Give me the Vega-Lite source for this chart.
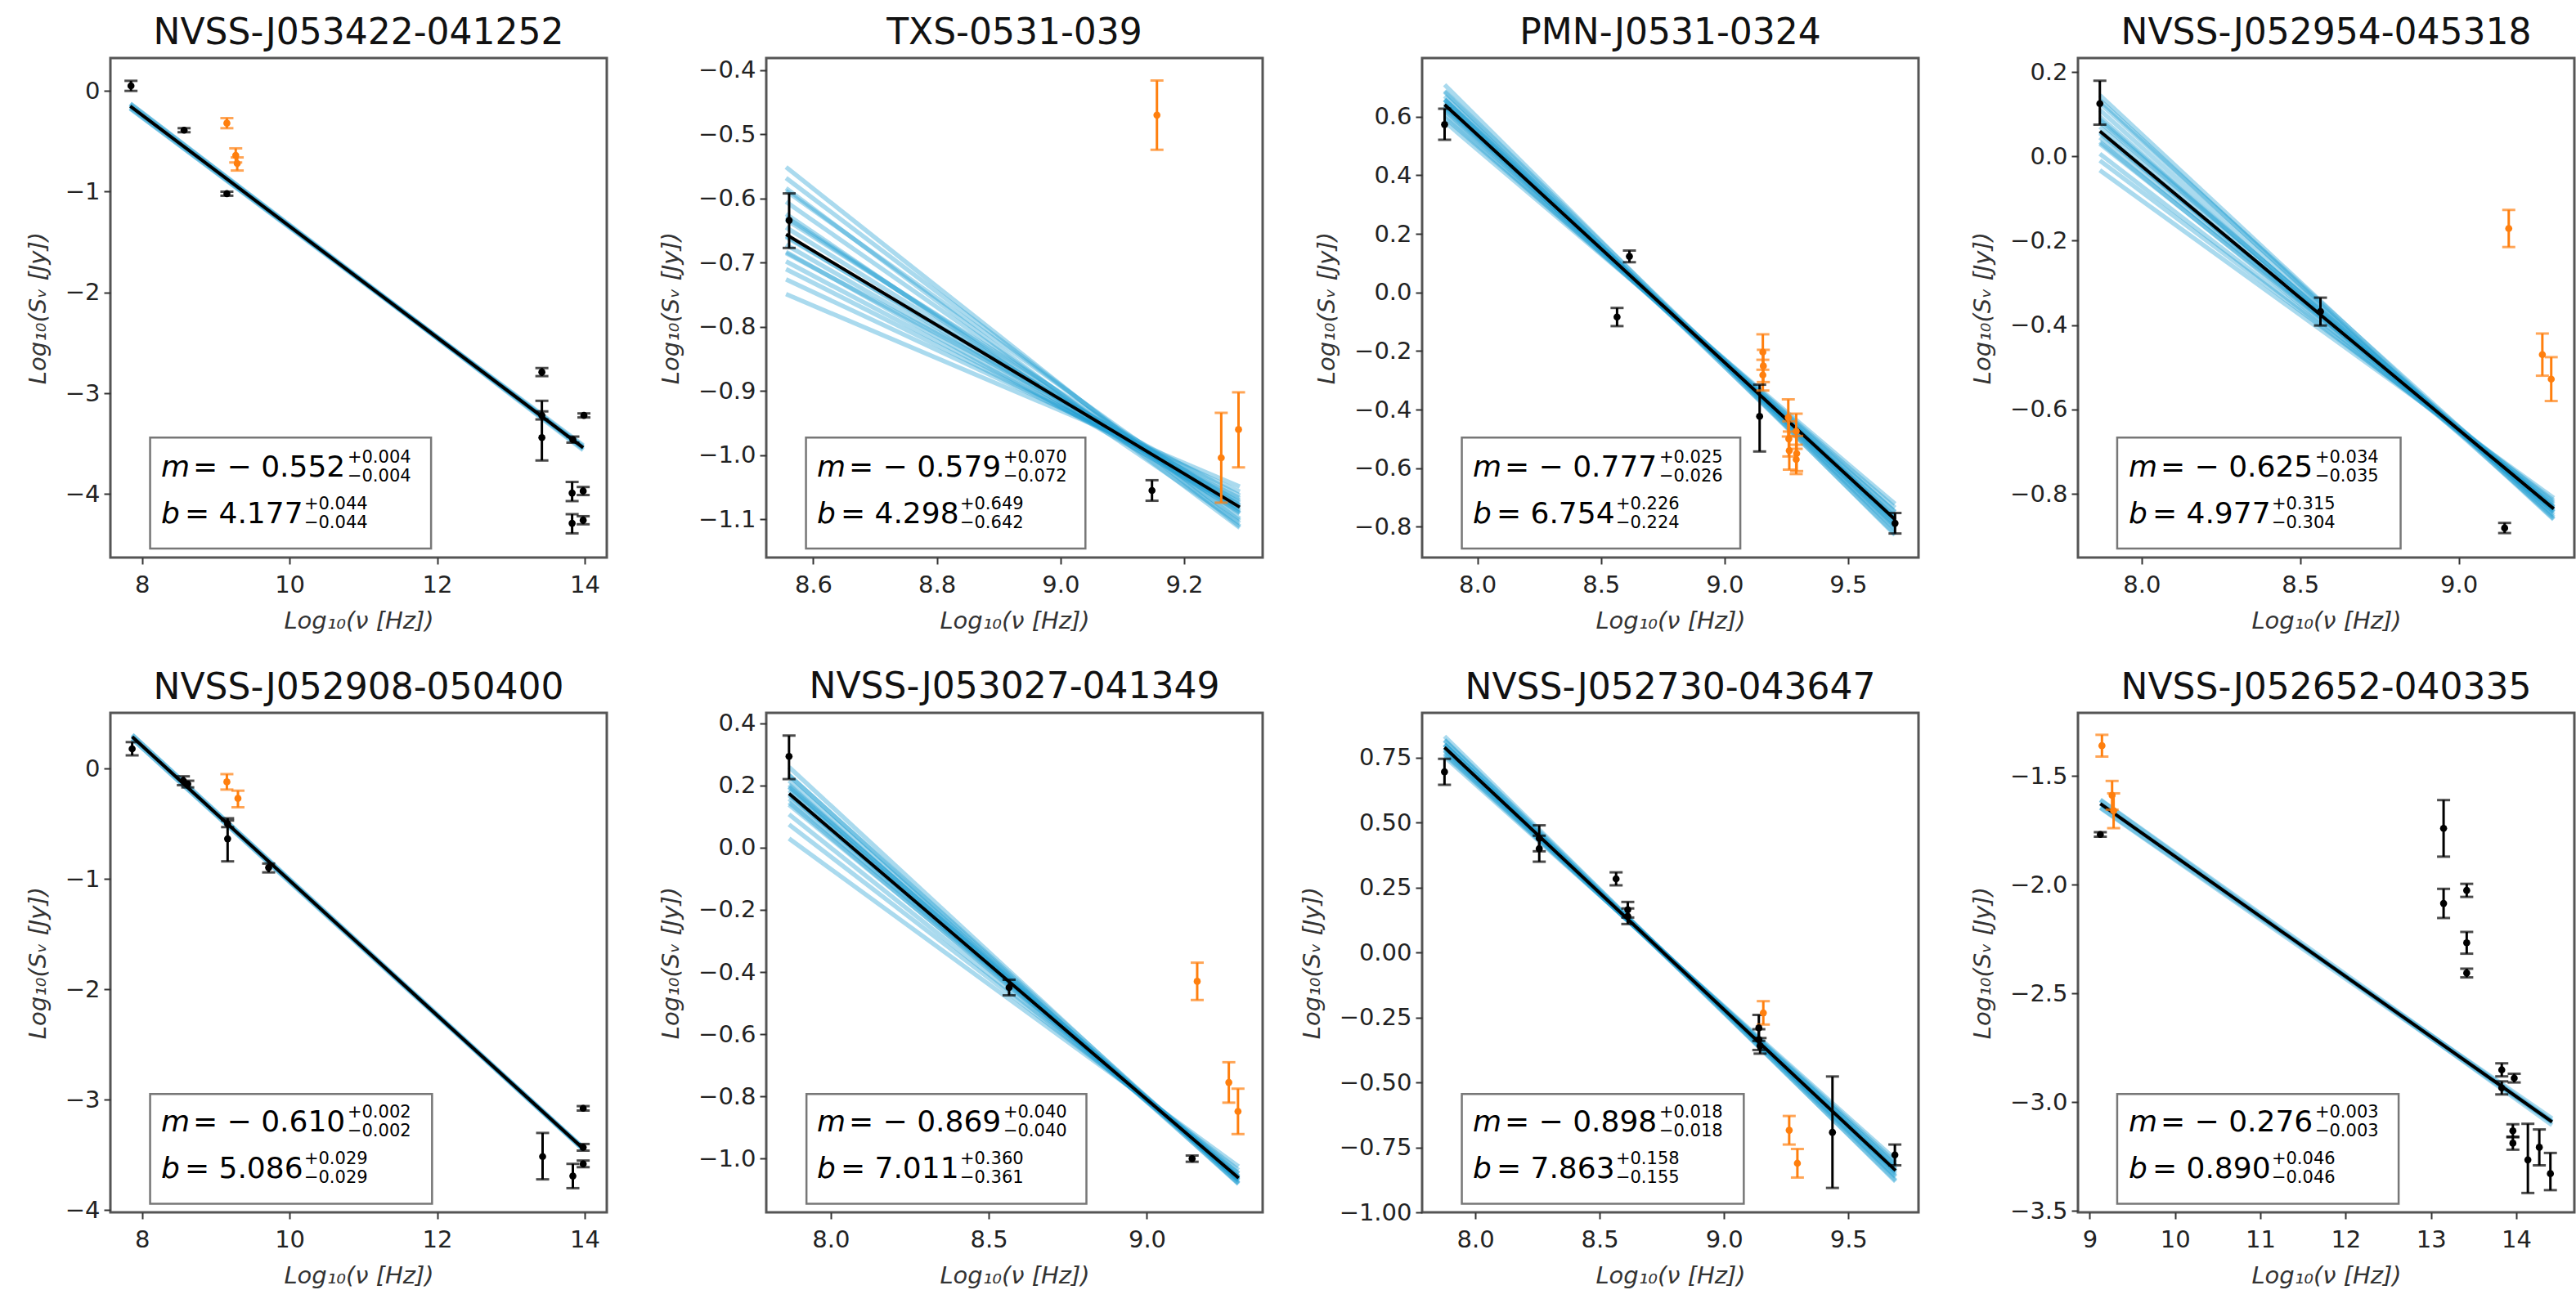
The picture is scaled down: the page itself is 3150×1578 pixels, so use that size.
{
"$schema": "https://vega.github.io/schema/vega-lite/v6.json",
"background": "white",
"padding": {"left": 30, "top": 17, "right": 0, "bottom": 0},
"columns": 4,
"spacing": {"row": 190, "column": 195},
"bounds": "flush",
"datasets": {
"pts": [
{"p":1,"c":"k","x":7.85,"y":0.05,"lo":0.0,"hi":0.1},
{"p":1,"c":"k","x":8.57,"y":-0.39,"lo":-0.41,"hi":-0.37},
{"p":1,"c":"k","x":9.15,"y":-1.02,"lo":-1.04,"hi":-1.0},
{"p":1,"c":"k","x":13.42,"y":-2.79,"lo":-2.83,"hi":-2.75},
{"p":1,"c":"k","x":13.42,"y":-3.22,"lo":-3.26,"hi":-3.18},
{"p":1,"c":"k","x":13.42,"y":-3.44,"lo":-3.667,"hi":-3.075},
{"p":1,"c":"k","x":13.84,"y":-3.46,"lo":-3.49,"hi":-3.43},
{"p":1,"c":"k","x":13.99,"y":-3.22,"lo":-3.24,"hi":-3.2},
{"p":1,"c":"k","x":13.83,"y":-3.99,"lo":-4.07,"hi":-3.88},
{"p":1,"c":"k","x":13.98,"y":-3.97,"lo":-4.01,"hi":-3.93},
{"p":1,"c":"k","x":13.83,"y":-4.29,"lo":-4.39,"hi":-4.2},
{"p":1,"c":"k","x":13.98,"y":-4.26,"lo":-4.3,"hi":-4.22},
{"p":1,"c":"o","x":9.15,"y":-0.32,"lo":-0.37,"hi":-0.27},
{"p":1,"c":"o","x":9.27,"y":-0.64,"lo":-0.71,"hi":-0.57},
{"p":1,"c":"o","x":9.29,"y":-0.72,"lo":-0.79,"hi":-0.66},
{"p":2,"c":"k","x":8.561,"y":-0.634,"lo":-0.677,"hi":-0.592},
{"p":2,"c":"k","x":9.148,"y":-1.055,"lo":-1.071,"hi":-1.039},
{"p":2,"c":"o","x":9.156,"y":-0.47,"lo":-0.524,"hi":-0.416},
{"p":2,"c":"o","x":9.26,"y":-1.004,"lo":-1.074,"hi":-0.934},
{"p":2,"c":"o","x":9.288,"y":-0.96,"lo":-1.019,"hi":-0.902},
{"p":3,"c":"k","x":7.867,"y":0.573,"lo":0.521,"hi":0.627},
{"p":3,"c":"k","x":8.565,"y":-0.084,"lo":-0.115,"hi":-0.053},
{"p":3,"c":"k","x":8.615,"y":0.123,"lo":0.103,"hi":0.143},
{"p":3,"c":"k","x":9.142,"y":-0.423,"lo":-0.543,"hi":-0.315},
{"p":3,"c":"k","x":9.69,"y":-0.788,"lo":-0.823,"hi":-0.753},
{"p":3,"c":"o","x":9.155,"y":-0.204,"lo":-0.264,"hi":-0.143},
{"p":3,"c":"o","x":9.157,"y":-0.251,"lo":-0.306,"hi":-0.196},
{"p":3,"c":"o","x":9.155,"y":-0.282,"lo":-0.335,"hi":-0.23},
{"p":3,"c":"o","x":9.258,"y":-0.427,"lo":-0.492,"hi":-0.365},
{"p":3,"c":"o","x":9.26,"y":-0.5,"lo":-0.56,"hi":-0.44},
{"p":3,"c":"o","x":9.262,"y":-0.54,"lo":-0.605,"hi":-0.475},
{"p":3,"c":"o","x":9.29,"y":-0.474,"lo":-0.534,"hi":-0.414},
{"p":3,"c":"o","x":9.292,"y":-0.55,"lo":-0.61,"hi":-0.49},
{"p":3,"c":"o","x":9.29,"y":-0.57,"lo":-0.62,"hi":-0.52},
{"p":4,"c":"k","x":7.868,"y":0.125,"lo":0.075,"hi":0.179},
{"p":4,"c":"k","x":8.564,"y":-0.368,"lo":-0.401,"hi":-0.335},
{"p":4,"c":"k","x":9.145,"y":-0.881,"lo":-0.893,"hi":-0.869},
{"p":4,"c":"o","x":9.158,"y":-0.171,"lo":-0.215,"hi":-0.127},
{"p":4,"c":"o","x":9.264,"y":-0.47,"lo":-0.52,"hi":-0.42},
{"p":4,"c":"o","x":9.292,"y":-0.528,"lo":-0.58,"hi":-0.476},
{"p":5,"c":"k","x":7.866,"y":0.179,"lo":0.12,"hi":0.24},
{"p":5,"c":"k","x":8.56,"y":-0.11,"lo":-0.15,"hi":-0.07},
{"p":5,"c":"k","x":8.62,"y":-0.14,"lo":-0.17,"hi":-0.11},
{"p":5,"c":"k","x":9.16,"y":-0.636,"lo":-0.84,"hi":-0.45},
{"p":5,"c":"k","x":9.16,"y":-0.5,"lo":-0.53,"hi":-0.47},
{"p":5,"c":"k","x":9.716,"y":-0.897,"lo":-0.94,"hi":-0.86},
{"p":5,"c":"k","x":13.43,"y":-3.514,"lo":-3.72,"hi":-3.3},
{"p":5,"c":"k","x":13.84,"y":-3.69,"lo":-3.8,"hi":-3.58},
{"p":5,"c":"k","x":13.98,"y":-3.077,"lo":-3.097,"hi":-3.057},
{"p":5,"c":"k","x":13.98,"y":-3.43,"lo":-3.46,"hi":-3.4},
{"p":5,"c":"k","x":13.98,"y":-3.58,"lo":-3.61,"hi":-3.55},
{"p":5,"c":"o","x":9.15,"y":-0.12,"lo":-0.19,"hi":-0.05},
{"p":5,"c":"o","x":9.3,"y":-0.27,"lo":-0.35,"hi":-0.2},
{"p":6,"c":"k","x":7.868,"y":0.293,"lo":0.22,"hi":0.36},
{"p":6,"c":"k","x":8.564,"y":-0.45,"lo":-0.475,"hi":-0.425},
{"p":6,"c":"k","x":9.143,"y":-1.0,"lo":-1.01,"hi":-0.99},
{"p":6,"c":"o","x":9.159,"y":-0.43,"lo":-0.49,"hi":-0.37},
{"p":6,"c":"o","x":9.259,"y":-0.755,"lo":-0.82,"hi":-0.69},
{"p":6,"c":"o","x":9.288,"y":-0.848,"lo":-0.921,"hi":-0.775},
{"p":7,"c":"k","x":7.876,"y":0.696,"lo":0.646,"hi":0.746},
{"p":7,"c":"k","x":8.257,"y":0.44,"lo":0.39,"hi":0.49},
{"p":7,"c":"k","x":8.257,"y":0.4,"lo":0.35,"hi":0.45},
{"p":7,"c":"k","x":8.566,"y":0.284,"lo":0.259,"hi":0.309},
{"p":7,"c":"k","x":8.613,"y":0.165,"lo":0.135,"hi":0.195},
{"p":7,"c":"k","x":8.613,"y":0.14,"lo":0.11,"hi":0.17},
{"p":7,"c":"k","x":9.14,"y":-0.29,"lo":-0.34,"hi":-0.24},
{"p":7,"c":"k","x":9.14,"y":-0.335,"lo":-0.375,"hi":-0.295},
{"p":7,"c":"k","x":9.145,"y":-0.359,"lo":-0.389,"hi":-0.329},
{"p":7,"c":"k","x":9.436,"y":-0.692,"lo":-0.906,"hi":-0.477},
{"p":7,"c":"k","x":9.687,"y":-0.779,"lo":-0.819,"hi":-0.739},
{"p":7,"c":"o","x":9.158,"y":-0.232,"lo":-0.277,"hi":-0.187},
{"p":7,"c":"o","x":9.262,"y":-0.684,"lo":-0.739,"hi":-0.629},
{"p":7,"c":"o","x":9.295,"y":-0.811,"lo":-0.866,"hi":-0.756},
{"p":8,"c":"k","x":9.124,"y":-1.769,"lo":-1.779,"hi":-1.759},
{"p":8,"c":"k","x":13.148,"y":-1.741,"lo":-1.871,"hi":-1.611},
{"p":8,"c":"k","x":13.148,"y":-2.086,"lo":-2.153,"hi":-2.019},
{"p":8,"c":"k","x":13.419,"y":-2.026,"lo":-2.056,"hi":-1.996},
{"p":8,"c":"k","x":13.419,"y":-2.267,"lo":-2.317,"hi":-2.217},
{"p":8,"c":"k","x":13.419,"y":-2.406,"lo":-2.426,"hi":-2.386},
{"p":8,"c":"k","x":13.83,"y":-2.851,"lo":-2.881,"hi":-2.821},
{"p":8,"c":"k","x":13.976,"y":-2.889,"lo":-2.909,"hi":-2.869},
{"p":8,"c":"k","x":13.83,"y":-2.934,"lo":-2.964,"hi":-2.904},
{"p":8,"c":"k","x":13.96,"y":-3.131,"lo":-3.161,"hi":-3.101},
{"p":8,"c":"k","x":13.96,"y":-3.188,"lo":-3.218,"hi":-3.158},
{"p":8,"c":"k","x":14.136,"y":-3.265,"lo":-3.417,"hi":-3.099},
{"p":8,"c":"k","x":14.27,"y":-3.207,"lo":-3.29,"hi":-3.125},
{"p":8,"c":"k","x":14.4,"y":-3.328,"lo":-3.404,"hi":-3.233},
{"p":8,"c":"o","x":9.143,"y":-1.361,"lo":-1.411,"hi":-1.311},
{"p":8,"c":"o","x":9.262,"y":-1.589,"lo":-1.655,"hi":-1.523},
{"p":8,"c":"o","x":9.28,"y":-1.66,"lo":-1.74,"hi":-1.58}
],
"lns": [
{"p":1,"k":"f","x":7.84,"y":-0.151,"xe":13.98,"ye":-3.54},
{"p":1,"k":"s","x":7.84,"y":-0.126,"xe":13.98,"ye":-3.564},
{"p":1,"k":"s","x":7.84,"y":-0.128,"xe":13.98,"ye":-3.542},
{"p":1,"k":"s","x":7.84,"y":-0.14,"xe":13.98,"ye":-3.552},
{"p":1,"k":"s","x":7.84,"y":-0.162,"xe":13.98,"ye":-3.528},
{"p":1,"k":"s","x":7.84,"y":-0.174,"xe":13.98,"ye":-3.538},
{"p":1,"k":"s","x":7.84,"y":-0.176,"xe":13.98,"ye":-3.516},
{"p":2,"k":"f","x":8.556,"y":-0.656,"xe":9.29,"ye":-1.081},
{"p":2,"k":"s","x":8.556,"y":-0.551,"xe":9.29,"ye":-1.111},
{"p":2,"k":"s","x":8.556,"y":-0.568,"xe":9.29,"ye":-1.102},
{"p":2,"k":"s","x":8.556,"y":-0.584,"xe":9.29,"ye":-1.113},
{"p":2,"k":"s","x":8.556,"y":-0.588,"xe":9.29,"ye":-1.091},
{"p":2,"k":"s","x":8.556,"y":-0.605,"xe":9.29,"ye":-1.099},
{"p":2,"k":"s","x":8.556,"y":-0.624,"xe":9.29,"ye":-1.106},
{"p":2,"k":"s","x":8.556,"y":-0.629,"xe":9.29,"ye":-1.09},
{"p":2,"k":"s","x":8.556,"y":-0.633,"xe":9.29,"ye":-1.078},
{"p":2,"k":"s","x":8.556,"y":-0.645,"xe":9.29,"ye":-1.085},
{"p":2,"k":"s","x":8.556,"y":-0.658,"xe":9.29,"ye":-1.088},
{"p":2,"k":"s","x":8.556,"y":-0.66,"xe":9.29,"ye":-1.074},
{"p":2,"k":"s","x":8.556,"y":-0.672,"xe":9.29,"ye":-1.079},
{"p":2,"k":"s","x":8.556,"y":-0.683,"xe":9.29,"ye":-1.082},
{"p":2,"k":"s","x":8.556,"y":-0.685,"xe":9.29,"ye":-1.063},
{"p":2,"k":"s","x":8.556,"y":-0.698,"xe":9.29,"ye":-1.071},
{"p":2,"k":"s","x":8.556,"y":-0.71,"xe":9.29,"ye":-1.067},
{"p":2,"k":"s","x":8.556,"y":-0.726,"xe":9.29,"ye":-1.057},
{"p":2,"k":"s","x":8.556,"y":-0.749,"xe":9.29,"ye":-1.049},
{"p":3,"k":"f","x":7.867,"y":0.641,"xe":9.69,"ye":-0.775},
{"p":3,"k":"s","x":7.867,"y":0.709,"xe":9.69,"ye":-0.828},
{"p":3,"k":"s","x":7.867,"y":0.685,"xe":9.69,"ye":-0.824},
{"p":3,"k":"s","x":7.867,"y":0.688,"xe":9.69,"ye":-0.798},
{"p":3,"k":"s","x":7.867,"y":0.67,"xe":9.69,"ye":-0.803},
{"p":3,"k":"s","x":7.867,"y":0.658,"xe":9.69,"ye":-0.809},
{"p":3,"k":"s","x":7.867,"y":0.658,"xe":9.69,"ye":-0.791},
{"p":3,"k":"s","x":7.867,"y":0.659,"xe":9.69,"ye":-0.776},
{"p":3,"k":"s","x":7.867,"y":0.648,"xe":9.69,"ye":-0.781},
{"p":3,"k":"s","x":7.867,"y":0.637,"xe":9.69,"ye":-0.783},
{"p":3,"k":"s","x":7.867,"y":0.64,"xe":9.69,"ye":-0.767},
{"p":3,"k":"s","x":7.867,"y":0.63,"xe":9.69,"ye":-0.77},
{"p":3,"k":"s","x":7.867,"y":0.621,"xe":9.69,"ye":-0.772},
{"p":3,"k":"s","x":7.867,"y":0.625,"xe":9.69,"ye":-0.749},
{"p":3,"k":"s","x":7.867,"y":0.605,"xe":9.69,"ye":-0.75},
{"p":3,"k":"s","x":7.867,"y":0.597,"xe":9.69,"ye":-0.735},
{"p":3,"k":"s","x":7.867,"y":0.583,"xe":9.69,"ye":-0.722},
{"p":4,"k":"f","x":7.868,"y":0.0595,"xe":9.3,"ye":-0.8355},
{"p":4,"k":"s","x":7.868,"y":0.145,"xe":9.3,"ye":-0.859},
{"p":4,"k":"s","x":7.868,"y":0.133,"xe":9.3,"ye":-0.861},
{"p":4,"k":"s","x":7.868,"y":0.126,"xe":9.3,"ye":-0.844},
{"p":4,"k":"s","x":7.868,"y":0.11,"xe":9.3,"ye":-0.85},
{"p":4,"k":"s","x":7.868,"y":0.094,"xe":9.3,"ye":-0.855},
{"p":4,"k":"s","x":7.868,"y":0.087,"xe":9.3,"ye":-0.843},
{"p":4,"k":"s","x":7.868,"y":0.081,"xe":9.3,"ye":-0.833},
{"p":4,"k":"s","x":7.868,"y":0.07,"xe":9.3,"ye":-0.838},
{"p":4,"k":"s","x":7.868,"y":0.059,"xe":9.3,"ye":-0.841},
{"p":4,"k":"s","x":7.868,"y":0.055,"xe":9.3,"ye":-0.83},
{"p":4,"k":"s","x":7.868,"y":0.045,"xe":9.3,"ye":-0.832},
{"p":4,"k":"s","x":7.868,"y":0.034,"xe":9.3,"ye":-0.837},
{"p":4,"k":"s","x":7.868,"y":0.03,"xe":9.3,"ye":-0.821},
{"p":4,"k":"s","x":7.868,"y":0.006,"xe":9.3,"ye":-0.825},
{"p":4,"k":"s","x":7.868,"y":-0.01,"xe":9.3,"ye":-0.816},
{"p":4,"k":"s","x":7.868,"y":-0.033,"xe":9.3,"ye":-0.81},
{"p":5,"k":"f","x":7.866,"y":0.288,"xe":13.98,"ye":-3.442},
{"p":5,"k":"s","x":7.866,"y":0.305,"xe":13.98,"ye":-3.45},
{"p":5,"k":"s","x":7.866,"y":0.306,"xe":13.98,"ye":-3.436},
{"p":5,"k":"s","x":7.866,"y":0.288,"xe":13.98,"ye":-3.442},
{"p":5,"k":"s","x":7.866,"y":0.27,"xe":13.98,"ye":-3.448},
{"p":5,"k":"s","x":7.866,"y":0.271,"xe":13.98,"ye":-3.434},
{"p":6,"k":"f","x":7.868,"y":0.1737,"xe":9.29,"ye":-1.062},
{"p":6,"k":"s","x":7.868,"y":0.259,"xe":9.29,"ye":-1.079},
{"p":6,"k":"s","x":7.868,"y":0.233,"xe":9.29,"ye":-1.082},
{"p":6,"k":"s","x":7.868,"y":0.232,"xe":9.29,"ye":-1.067},
{"p":6,"k":"s","x":7.868,"y":0.215,"xe":9.29,"ye":-1.072},
{"p":6,"k":"s","x":7.868,"y":0.202,"xe":9.29,"ye":-1.079},
{"p":6,"k":"s","x":7.868,"y":0.196,"xe":9.29,"ye":-1.068},
{"p":6,"k":"s","x":7.868,"y":0.194,"xe":9.29,"ye":-1.059},
{"p":6,"k":"s","x":7.868,"y":0.184,"xe":9.29,"ye":-1.064},
{"p":6,"k":"s","x":7.868,"y":0.173,"xe":9.29,"ye":-1.068},
{"p":6,"k":"s","x":7.868,"y":0.168,"xe":9.29,"ye":-1.057},
{"p":6,"k":"s","x":7.868,"y":0.157,"xe":9.29,"ye":-1.06},
{"p":6,"k":"s","x":7.868,"y":0.145,"xe":9.29,"ye":-1.063},
{"p":6,"k":"s","x":7.868,"y":0.138,"xe":9.29,"ye":-1.047},
{"p":6,"k":"s","x":7.868,"y":0.107,"xe":9.29,"ye":-1.049},
{"p":6,"k":"s","x":7.868,"y":0.074,"xe":9.29,"ye":-1.037},
{"p":6,"k":"s","x":7.868,"y":0.029,"xe":9.29,"ye":-1.025},
{"p":7,"k":"f","x":7.876,"y":0.79,"xe":9.69,"ye":-0.839},
{"p":7,"k":"s","x":7.876,"y":0.833,"xe":9.69,"ye":-0.881},
{"p":7,"k":"s","x":7.876,"y":0.817,"xe":9.69,"ye":-0.877},
{"p":7,"k":"s","x":7.876,"y":0.819,"xe":9.69,"ye":-0.859},
{"p":7,"k":"s","x":7.876,"y":0.801,"xe":9.69,"ye":-0.864},
{"p":7,"k":"s","x":7.876,"y":0.801,"xe":9.69,"ye":-0.851},
{"p":7,"k":"s","x":7.876,"y":0.801,"xe":9.69,"ye":-0.841},
{"p":7,"k":"s","x":7.876,"y":0.788,"xe":9.69,"ye":-0.844},
{"p":7,"k":"s","x":7.876,"y":0.789,"xe":9.69,"ye":-0.833},
{"p":7,"k":"s","x":7.876,"y":0.778,"xe":9.69,"ye":-0.835},
{"p":7,"k":"s","x":7.876,"y":0.78,"xe":9.69,"ye":-0.82},
{"p":7,"k":"s","x":7.876,"y":0.768,"xe":9.69,"ye":-0.819},
{"p":7,"k":"s","x":7.876,"y":0.763,"xe":9.69,"ye":-0.808},
{"p":7,"k":"s","x":7.876,"y":0.754,"xe":9.69,"ye":-0.797},
{"p":8,"k":"f","x":9.124,"y":-1.628,"xe":14.42,"ye":-3.09},
{"p":8,"k":"s","x":9.124,"y":-1.611,"xe":14.42,"ye":-3.105},
{"p":8,"k":"s","x":9.124,"y":-1.609,"xe":14.42,"ye":-3.087},
{"p":8,"k":"s","x":9.124,"y":-1.628,"xe":14.42,"ye":-3.09},
{"p":8,"k":"s","x":9.124,"y":-1.647,"xe":14.42,"ye":-3.093},
{"p":8,"k":"s","x":9.124,"y":-1.645,"xe":14.42,"ye":-3.075}
],
"ann": [
{"p":1,"mv":"= − 0.552","mp":"+0.004","mm":"−0.004","bv":"= 4.177","bp":"+0.044","bm":"−0.044"},
{"p":2,"mv":"= − 0.579","mp":"+0.070","mm":"−0.072","bv":"= 4.298","bp":"+0.649","bm":"−0.642"},
{"p":3,"mv":"= − 0.777","mp":"+0.025","mm":"−0.026","bv":"= 6.754","bp":"+0.226","bm":"−0.224"},
{"p":4,"mv":"= − 0.625","mp":"+0.034","mm":"−0.035","bv":"= 4.977","bp":"+0.315","bm":"−0.304"},
{"p":5,"mv":"= − 0.610","mp":"+0.002","mm":"−0.002","bv":"= 5.086","bp":"+0.029","bm":"−0.029"},
{"p":6,"mv":"= − 0.869","mp":"+0.040","mm":"−0.040","bv":"= 7.011","bp":"+0.360","bm":"−0.361"},
{"p":7,"mv":"= − 0.898","mp":"+0.018","mm":"−0.018","bv":"= 7.863","bp":"+0.158","bm":"−0.155"},
{"p":8,"mv":"= − 0.276","mp":"+0.003","mm":"−0.003","bv":"= 0.890","bp":"+0.046","bm":"−0.046"}
]
},
"concat": [
{"width":607,"height":611,"title":"NVSS-J053422-041252","resolve":{"scale":{"x":"independent","y":"independent"}},
"layer":[
{"layer":[
{"data":{"name":"lns"},"transform":[{"filter":"datum.p == 1 && datum.k == 's'"}],"mark":{"type":"rule","color":"#1f9ed1","opacity":0.38,"strokeWidth":5.5},
"encoding":{"x":{"field":"x","type":"quantitative","scale":{"domain":[7.571,14.3],"zero":false,"nice":false},"axis":{"values":[8,10,12,14],"format":"d","title":"Log₁₀(ν [Hz])"}},
"y":{"field":"y","type":"quantitative","scale":{"domain":[-4.63,0.326],"zero":false,"nice":false},"axis":{"values":[0,-1,-2,-3,-4],"format":"d","title":"Log₁₀(Sᵥ [Jy])"}},"x2":{"field":"xe"},"y2":{"field":"ye"}}},
{"data":{"name":"lns"},"transform":[{"filter":"datum.p == 1 && datum.k == 'f'"}],"mark":{"type":"rule","color":"#000000","strokeWidth":4},"encoding":{"x":{"field":"x","type":"quantitative"},"y":{"field":"y","type":"quantitative"},"x2":{"field":"xe"},"y2":{"field":"ye"}}},
{"data":{"name":"pts"},"transform":[{"filter":"datum.p == 1"}],"mark":{"type":"rule","strokeWidth":3},"encoding":{"x":{"field":"x","type":"quantitative"},"y":{"field":"lo","type":"quantitative"},"y2":{"field":"hi"},"color":{"field":"c","type":"nominal","scale":{"domain":["k","o"],"range":["#000000","#ff7f0e"]},"legend":null}}},
{"data":{"name":"pts"},"transform":[{"filter":"datum.p == 1"}],"mark":{"type":"tick","orient":"horizontal","size":16,"thickness":3},"encoding":{"x":{"field":"x","type":"quantitative"},"y":{"field":"lo","type":"quantitative"},"color":{"field":"c","type":"nominal","legend":null}}},
{"data":{"name":"pts"},"transform":[{"filter":"datum.p == 1"}],"mark":{"type":"tick","orient":"horizontal","size":16,"thickness":3},"encoding":{"x":{"field":"x","type":"quantitative"},"y":{"field":"hi","type":"quantitative"},"color":{"field":"c","type":"nominal","legend":null}}},
{"data":{"name":"pts"},"transform":[{"filter":"datum.p == 1"}],"mark":{"type":"circle","size":75,"opacity":1},"encoding":{"x":{"field":"x","type":"quantitative"},"y":{"field":"y","type":"quantitative"},"color":{"field":"c","type":"nominal","legend":null}}}
]},
{"data":{"name":"ann"},"transform":[{"filter":"datum.p == 1"}],
"encoding":{"x":{"datum":0.102,"type":"quantitative","scale":{"domain":[0,1]},"axis":null},"y":{"datum":0.18,"type":"quantitative","scale":{"domain":[0,1]},"axis":null}},
"layer":[
{"mark":{"type":"rect","fill":"#ffffff","stroke":"#777777","strokeWidth":2.5},"encoding":{"x":{"datum":0.08,"type":"quantitative","axis":null},"x2":{"datum":0.646},"y":{"datum":0.018,"type":"quantitative","axis":null},"y2":{"datum":0.24}}},
{"mark":{"type":"text","text":"m","fontStyle":"italic","fontSize":36,"align":"left","baseline":"middle","color":"#000000"}},
{"mark":{"type":"text","fontSize":36,"align":"left","baseline":"middle","dx":39,"color":"#000000"},"encoding":{"text":{"field":"mv"}}},
{"mark":{"type":"text","fontSize":21,"align":"left","baseline":"middle","dx":228,"dy":-12,"color":"#000000"},"encoding":{"text":{"field":"mp"}}},
{"mark":{"type":"text","fontSize":21,"align":"left","baseline":"middle","dx":228,"dy":11,"color":"#000000"},"encoding":{"text":{"field":"mm"}}},
{"mark":{"type":"text","text":"b","fontStyle":"italic","fontSize":36,"align":"left","baseline":"middle","dy":57,"color":"#000000"}},
{"mark":{"type":"text","fontSize":36,"align":"left","baseline":"middle","dx":29,"dy":57,"color":"#000000"},"encoding":{"text":{"field":"bv"}}},
{"mark":{"type":"text","fontSize":21,"align":"left","baseline":"middle","dx":175,"dy":45,"color":"#000000"},"encoding":{"text":{"field":"bp"}}},
{"mark":{"type":"text","fontSize":21,"align":"left","baseline":"middle","dx":175,"dy":68,"color":"#000000"},"encoding":{"text":{"field":"bm"}}}
]}
]},
{"width":607,"height":611,"title":"TXS-0531-039","resolve":{"scale":{"x":"independent","y":"independent"}},
"layer":[
{"layer":[
{"data":{"name":"lns"},"transform":[{"filter":"datum.p == 2 && datum.k == 's'"}],"mark":{"type":"rule","color":"#1f9ed1","opacity":0.38,"strokeWidth":5.5},
"encoding":{"x":{"field":"x","type":"quantitative","scale":{"domain":[8.524,9.327],"zero":false,"nice":false},"axis":{"values":[8.6,8.8,9.0,9.2],"format":".1f","title":"Log₁₀(ν [Hz])"}},
"y":{"field":"y","type":"quantitative","scale":{"domain":[-1.1595,-0.381],"zero":false,"nice":false},"axis":{"values":[-0.4,-0.5,-0.6,-0.7,-0.8,-0.9,-1.0,-1.1],"format":".1f","title":"Log₁₀(Sᵥ [Jy])"}},"x2":{"field":"xe"},"y2":{"field":"ye"}}},
{"data":{"name":"lns"},"transform":[{"filter":"datum.p == 2 && datum.k == 'f'"}],"mark":{"type":"rule","color":"#000000","strokeWidth":4},"encoding":{"x":{"field":"x","type":"quantitative"},"y":{"field":"y","type":"quantitative"},"x2":{"field":"xe"},"y2":{"field":"ye"}}},
{"data":{"name":"pts"},"transform":[{"filter":"datum.p == 2"}],"mark":{"type":"rule","strokeWidth":3},"encoding":{"x":{"field":"x","type":"quantitative"},"y":{"field":"lo","type":"quantitative"},"y2":{"field":"hi"},"color":{"field":"c","type":"nominal","scale":{"domain":["k","o"],"range":["#000000","#ff7f0e"]},"legend":null}}},
{"data":{"name":"pts"},"transform":[{"filter":"datum.p == 2"}],"mark":{"type":"tick","orient":"horizontal","size":16,"thickness":3},"encoding":{"x":{"field":"x","type":"quantitative"},"y":{"field":"lo","type":"quantitative"},"color":{"field":"c","type":"nominal","legend":null}}},
{"data":{"name":"pts"},"transform":[{"filter":"datum.p == 2"}],"mark":{"type":"tick","orient":"horizontal","size":16,"thickness":3},"encoding":{"x":{"field":"x","type":"quantitative"},"y":{"field":"hi","type":"quantitative"},"color":{"field":"c","type":"nominal","legend":null}}},
{"data":{"name":"pts"},"transform":[{"filter":"datum.p == 2"}],"mark":{"type":"circle","size":75,"opacity":1},"encoding":{"x":{"field":"x","type":"quantitative"},"y":{"field":"y","type":"quantitative"},"color":{"field":"c","type":"nominal","legend":null}}}
]},
{"data":{"name":"ann"},"transform":[{"filter":"datum.p == 2"}],
"encoding":{"x":{"datum":0.102,"type":"quantitative","scale":{"domain":[0,1]},"axis":null},"y":{"datum":0.18,"type":"quantitative","scale":{"domain":[0,1]},"axis":null}},
"layer":[
{"mark":{"type":"rect","fill":"#ffffff","stroke":"#777777","strokeWidth":2.5},"encoding":{"x":{"datum":0.08,"type":"quantitative","axis":null},"x2":{"datum":0.643},"y":{"datum":0.018,"type":"quantitative","axis":null},"y2":{"datum":0.24}}},
{"mark":{"type":"text","text":"m","fontStyle":"italic","fontSize":36,"align":"left","baseline":"middle","color":"#000000"}},
{"mark":{"type":"text","fontSize":36,"align":"left","baseline":"middle","dx":39,"color":"#000000"},"encoding":{"text":{"field":"mv"}}},
{"mark":{"type":"text","fontSize":21,"align":"left","baseline":"middle","dx":228,"dy":-12,"color":"#000000"},"encoding":{"text":{"field":"mp"}}},
{"mark":{"type":"text","fontSize":21,"align":"left","baseline":"middle","dx":228,"dy":11,"color":"#000000"},"encoding":{"text":{"field":"mm"}}},
{"mark":{"type":"text","text":"b","fontStyle":"italic","fontSize":36,"align":"left","baseline":"middle","dy":57,"color":"#000000"}},
{"mark":{"type":"text","fontSize":36,"align":"left","baseline":"middle","dx":29,"dy":57,"color":"#000000"},"encoding":{"text":{"field":"bv"}}},
{"mark":{"type":"text","fontSize":21,"align":"left","baseline":"middle","dx":175,"dy":45,"color":"#000000"},"encoding":{"text":{"field":"bp"}}},
{"mark":{"type":"text","fontSize":21,"align":"left","baseline":"middle","dx":175,"dy":68,"color":"#000000"},"encoding":{"text":{"field":"bm"}}}
]}
]},
{"width":607,"height":611,"title":"PMN-J0531-0324","resolve":{"scale":{"x":"independent","y":"independent"}},
"layer":[
{"layer":[
{"data":{"name":"lns"},"transform":[{"filter":"datum.p == 3 && datum.k == 's'"}],"mark":{"type":"rule","color":"#1f9ed1","opacity":0.38,"strokeWidth":5.5},
"encoding":{"x":{"field":"x","type":"quantitative","scale":{"domain":[7.776,9.785],"zero":false,"nice":false},"axis":{"values":[8.0,8.5,9.0,9.5],"format":".1f","title":"Log₁₀(ν [Hz])"}},
"y":{"field":"y","type":"quantitative","scale":{"domain":[-0.905,0.8],"zero":false,"nice":false},"axis":{"values":[0.6,0.4,0.2,0.0,-0.2,-0.4,-0.6,-0.8],"format":".1f","title":"Log₁₀(Sᵥ [Jy])"}},"x2":{"field":"xe"},"y2":{"field":"ye"}}},
{"data":{"name":"lns"},"transform":[{"filter":"datum.p == 3 && datum.k == 'f'"}],"mark":{"type":"rule","color":"#000000","strokeWidth":4},"encoding":{"x":{"field":"x","type":"quantitative"},"y":{"field":"y","type":"quantitative"},"x2":{"field":"xe"},"y2":{"field":"ye"}}},
{"data":{"name":"pts"},"transform":[{"filter":"datum.p == 3"}],"mark":{"type":"rule","strokeWidth":3},"encoding":{"x":{"field":"x","type":"quantitative"},"y":{"field":"lo","type":"quantitative"},"y2":{"field":"hi"},"color":{"field":"c","type":"nominal","scale":{"domain":["k","o"],"range":["#000000","#ff7f0e"]},"legend":null}}},
{"data":{"name":"pts"},"transform":[{"filter":"datum.p == 3"}],"mark":{"type":"tick","orient":"horizontal","size":16,"thickness":3},"encoding":{"x":{"field":"x","type":"quantitative"},"y":{"field":"lo","type":"quantitative"},"color":{"field":"c","type":"nominal","legend":null}}},
{"data":{"name":"pts"},"transform":[{"filter":"datum.p == 3"}],"mark":{"type":"tick","orient":"horizontal","size":16,"thickness":3},"encoding":{"x":{"field":"x","type":"quantitative"},"y":{"field":"hi","type":"quantitative"},"color":{"field":"c","type":"nominal","legend":null}}},
{"data":{"name":"pts"},"transform":[{"filter":"datum.p == 3"}],"mark":{"type":"circle","size":75,"opacity":1},"encoding":{"x":{"field":"x","type":"quantitative"},"y":{"field":"y","type":"quantitative"},"color":{"field":"c","type":"nominal","legend":null}}}
]},
{"data":{"name":"ann"},"transform":[{"filter":"datum.p == 3"}],
"encoding":{"x":{"datum":0.102,"type":"quantitative","scale":{"domain":[0,1]},"axis":null},"y":{"datum":0.18,"type":"quantitative","scale":{"domain":[0,1]},"axis":null}},
"layer":[
{"mark":{"type":"rect","fill":"#ffffff","stroke":"#777777","strokeWidth":2.5},"encoding":{"x":{"datum":0.08,"type":"quantitative","axis":null},"x2":{"datum":0.641},"y":{"datum":0.018,"type":"quantitative","axis":null},"y2":{"datum":0.24}}},
{"mark":{"type":"text","text":"m","fontStyle":"italic","fontSize":36,"align":"left","baseline":"middle","color":"#000000"}},
{"mark":{"type":"text","fontSize":36,"align":"left","baseline":"middle","dx":39,"color":"#000000"},"encoding":{"text":{"field":"mv"}}},
{"mark":{"type":"text","fontSize":21,"align":"left","baseline":"middle","dx":228,"dy":-12,"color":"#000000"},"encoding":{"text":{"field":"mp"}}},
{"mark":{"type":"text","fontSize":21,"align":"left","baseline":"middle","dx":228,"dy":11,"color":"#000000"},"encoding":{"text":{"field":"mm"}}},
{"mark":{"type":"text","text":"b","fontStyle":"italic","fontSize":36,"align":"left","baseline":"middle","dy":57,"color":"#000000"}},
{"mark":{"type":"text","fontSize":36,"align":"left","baseline":"middle","dx":29,"dy":57,"color":"#000000"},"encoding":{"text":{"field":"bv"}}},
{"mark":{"type":"text","fontSize":21,"align":"left","baseline":"middle","dx":175,"dy":45,"color":"#000000"},"encoding":{"text":{"field":"bp"}}},
{"mark":{"type":"text","fontSize":21,"align":"left","baseline":"middle","dx":175,"dy":68,"color":"#000000"},"encoding":{"text":{"field":"bm"}}}
]}
]},
{"width":607,"height":611,"title":"NVSS-J052954-045318","resolve":{"scale":{"x":"independent","y":"independent"}},
"layer":[
{"layer":[
{"data":{"name":"lns"},"transform":[{"filter":"datum.p == 4 && datum.k == 's'"}],"mark":{"type":"rule","color":"#1f9ed1","opacity":0.38,"strokeWidth":5.5},
"encoding":{"x":{"field":"x","type":"quantitative","scale":{"domain":[7.799,9.365],"zero":false,"nice":false},"axis":{"values":[8.0,8.5,9.0],"format":".1f","title":"Log₁₀(ν [Hz])"}},
"y":{"field":"y","type":"quantitative","scale":{"domain":[-0.951,0.233],"zero":false,"nice":false},"axis":{"values":[0.2,0.0,-0.2,-0.4,-0.6,-0.8],"format":".1f","title":"Log₁₀(Sᵥ [Jy])"}},"x2":{"field":"xe"},"y2":{"field":"ye"}}},
{"data":{"name":"lns"},"transform":[{"filter":"datum.p == 4 && datum.k == 'f'"}],"mark":{"type":"rule","color":"#000000","strokeWidth":4},"encoding":{"x":{"field":"x","type":"quantitative"},"y":{"field":"y","type":"quantitative"},"x2":{"field":"xe"},"y2":{"field":"ye"}}},
{"data":{"name":"pts"},"transform":[{"filter":"datum.p == 4"}],"mark":{"type":"rule","strokeWidth":3},"encoding":{"x":{"field":"x","type":"quantitative"},"y":{"field":"lo","type":"quantitative"},"y2":{"field":"hi"},"color":{"field":"c","type":"nominal","scale":{"domain":["k","o"],"range":["#000000","#ff7f0e"]},"legend":null}}},
{"data":{"name":"pts"},"transform":[{"filter":"datum.p == 4"}],"mark":{"type":"tick","orient":"horizontal","size":16,"thickness":3},"encoding":{"x":{"field":"x","type":"quantitative"},"y":{"field":"lo","type":"quantitative"},"color":{"field":"c","type":"nominal","legend":null}}},
{"data":{"name":"pts"},"transform":[{"filter":"datum.p == 4"}],"mark":{"type":"tick","orient":"horizontal","size":16,"thickness":3},"encoding":{"x":{"field":"x","type":"quantitative"},"y":{"field":"hi","type":"quantitative"},"color":{"field":"c","type":"nominal","legend":null}}},
{"data":{"name":"pts"},"transform":[{"filter":"datum.p == 4"}],"mark":{"type":"circle","size":75,"opacity":1},"encoding":{"x":{"field":"x","type":"quantitative"},"y":{"field":"y","type":"quantitative"},"color":{"field":"c","type":"nominal","legend":null}}}
]},
{"data":{"name":"ann"},"transform":[{"filter":"datum.p == 4"}],
"encoding":{"x":{"datum":0.102,"type":"quantitative","scale":{"domain":[0,1]},"axis":null},"y":{"datum":0.18,"type":"quantitative","scale":{"domain":[0,1]},"axis":null}},
"layer":[
{"mark":{"type":"rect","fill":"#ffffff","stroke":"#777777","strokeWidth":2.5},"encoding":{"x":{"datum":0.079,"type":"quantitative","axis":null},"x2":{"datum":0.65},"y":{"datum":0.018,"type":"quantitative","axis":null},"y2":{"datum":0.24}}},
{"mark":{"type":"text","text":"m","fontStyle":"italic","fontSize":36,"align":"left","baseline":"middle","color":"#000000"}},
{"mark":{"type":"text","fontSize":36,"align":"left","baseline":"middle","dx":39,"color":"#000000"},"encoding":{"text":{"field":"mv"}}},
{"mark":{"type":"text","fontSize":21,"align":"left","baseline":"middle","dx":228,"dy":-12,"color":"#000000"},"encoding":{"text":{"field":"mp"}}},
{"mark":{"type":"text","fontSize":21,"align":"left","baseline":"middle","dx":228,"dy":11,"color":"#000000"},"encoding":{"text":{"field":"mm"}}},
{"mark":{"type":"text","text":"b","fontStyle":"italic","fontSize":36,"align":"left","baseline":"middle","dy":57,"color":"#000000"}},
{"mark":{"type":"text","fontSize":36,"align":"left","baseline":"middle","dx":29,"dy":57,"color":"#000000"},"encoding":{"text":{"field":"bv"}}},
{"mark":{"type":"text","fontSize":21,"align":"left","baseline":"middle","dx":175,"dy":45,"color":"#000000"},"encoding":{"text":{"field":"bp"}}},
{"mark":{"type":"text","fontSize":21,"align":"left","baseline":"middle","dx":175,"dy":68,"color":"#000000"},"encoding":{"text":{"field":"bm"}}}
]}
]},
{"width":607,"height":611,"title":"NVSS-J052908-050400","resolve":{"scale":{"x":"independent","y":"independent"}},
"layer":[
{"layer":[
{"data":{"name":"lns"},"transform":[{"filter":"datum.p == 5 && datum.k == 's'"}],"mark":{"type":"rule","color":"#1f9ed1","opacity":0.38,"strokeWidth":5.5},
"encoding":{"x":{"field":"x","type":"quantitative","scale":{"domain":[7.571,14.3],"zero":false,"nice":false},"axis":{"values":[8,10,12,14],"format":"d","title":"Log₁₀(ν [Hz])"}},
"y":{"field":"y","type":"quantitative","scale":{"domain":[-4.019,0.505],"zero":false,"nice":false},"axis":{"values":[0,-1,-2,-3,-4],"format":"d","title":"Log₁₀(Sᵥ [Jy])"}},"x2":{"field":"xe"},"y2":{"field":"ye"}}},
{"data":{"name":"lns"},"transform":[{"filter":"datum.p == 5 && datum.k == 'f'"}],"mark":{"type":"rule","color":"#000000","strokeWidth":4},"encoding":{"x":{"field":"x","type":"quantitative"},"y":{"field":"y","type":"quantitative"},"x2":{"field":"xe"},"y2":{"field":"ye"}}},
{"data":{"name":"pts"},"transform":[{"filter":"datum.p == 5"}],"mark":{"type":"rule","strokeWidth":3},"encoding":{"x":{"field":"x","type":"quantitative"},"y":{"field":"lo","type":"quantitative"},"y2":{"field":"hi"},"color":{"field":"c","type":"nominal","scale":{"domain":["k","o"],"range":["#000000","#ff7f0e"]},"legend":null}}},
{"data":{"name":"pts"},"transform":[{"filter":"datum.p == 5"}],"mark":{"type":"tick","orient":"horizontal","size":16,"thickness":3},"encoding":{"x":{"field":"x","type":"quantitative"},"y":{"field":"lo","type":"quantitative"},"color":{"field":"c","type":"nominal","legend":null}}},
{"data":{"name":"pts"},"transform":[{"filter":"datum.p == 5"}],"mark":{"type":"tick","orient":"horizontal","size":16,"thickness":3},"encoding":{"x":{"field":"x","type":"quantitative"},"y":{"field":"hi","type":"quantitative"},"color":{"field":"c","type":"nominal","legend":null}}},
{"data":{"name":"pts"},"transform":[{"filter":"datum.p == 5"}],"mark":{"type":"circle","size":75,"opacity":1},"encoding":{"x":{"field":"x","type":"quantitative"},"y":{"field":"y","type":"quantitative"},"color":{"field":"c","type":"nominal","legend":null}}}
]},
{"data":{"name":"ann"},"transform":[{"filter":"datum.p == 5"}],
"encoding":{"x":{"datum":0.102,"type":"quantitative","scale":{"domain":[0,1]},"axis":null},"y":{"datum":0.18,"type":"quantitative","scale":{"domain":[0,1]},"axis":null}},
"layer":[
{"mark":{"type":"rect","fill":"#ffffff","stroke":"#777777","strokeWidth":2.5},"encoding":{"x":{"datum":0.08,"type":"quantitative","axis":null},"x2":{"datum":0.648},"y":{"datum":0.017,"type":"quantitative","axis":null},"y2":{"datum":0.237}}},
{"mark":{"type":"text","text":"m","fontStyle":"italic","fontSize":36,"align":"left","baseline":"middle","color":"#000000"}},
{"mark":{"type":"text","fontSize":36,"align":"left","baseline":"middle","dx":39,"color":"#000000"},"encoding":{"text":{"field":"mv"}}},
{"mark":{"type":"text","fontSize":21,"align":"left","baseline":"middle","dx":228,"dy":-12,"color":"#000000"},"encoding":{"text":{"field":"mp"}}},
{"mark":{"type":"text","fontSize":21,"align":"left","baseline":"middle","dx":228,"dy":11,"color":"#000000"},"encoding":{"text":{"field":"mm"}}},
{"mark":{"type":"text","text":"b","fontStyle":"italic","fontSize":36,"align":"left","baseline":"middle","dy":57,"color":"#000000"}},
{"mark":{"type":"text","fontSize":36,"align":"left","baseline":"middle","dx":29,"dy":57,"color":"#000000"},"encoding":{"text":{"field":"bv"}}},
{"mark":{"type":"text","fontSize":21,"align":"left","baseline":"middle","dx":175,"dy":45,"color":"#000000"},"encoding":{"text":{"field":"bp"}}},
{"mark":{"type":"text","fontSize":21,"align":"left","baseline":"middle","dx":175,"dy":68,"color":"#000000"},"encoding":{"text":{"field":"bm"}}}
]}
]},
{"width":607,"height":611,"title":"NVSS-J053027-041349","resolve":{"scale":{"x":"independent","y":"independent"}},
"layer":[
{"layer":[
{"data":{"name":"lns"},"transform":[{"filter":"datum.p == 6 && datum.k == 's'"}],"mark":{"type":"rule","color":"#1f9ed1","opacity":0.38,"strokeWidth":5.5},
"encoding":{"x":{"field":"x","type":"quantitative","scale":{"domain":[7.796,9.366],"zero":false,"nice":false},"axis":{"values":[8.0,8.5,9.0],"format":".1f","title":"Log₁₀(ν [Hz])"}},
"y":{"field":"y","type":"quantitative","scale":{"domain":[-1.1725,0.433],"zero":false,"nice":false},"axis":{"values":[0.4,0.2,0.0,-0.2,-0.4,-0.6,-0.8,-1.0],"format":".1f","title":"Log₁₀(Sᵥ [Jy])"}},"x2":{"field":"xe"},"y2":{"field":"ye"}}},
{"data":{"name":"lns"},"transform":[{"filter":"datum.p == 6 && datum.k == 'f'"}],"mark":{"type":"rule","color":"#000000","strokeWidth":4},"encoding":{"x":{"field":"x","type":"quantitative"},"y":{"field":"y","type":"quantitative"},"x2":{"field":"xe"},"y2":{"field":"ye"}}},
{"data":{"name":"pts"},"transform":[{"filter":"datum.p == 6"}],"mark":{"type":"rule","strokeWidth":3},"encoding":{"x":{"field":"x","type":"quantitative"},"y":{"field":"lo","type":"quantitative"},"y2":{"field":"hi"},"color":{"field":"c","type":"nominal","scale":{"domain":["k","o"],"range":["#000000","#ff7f0e"]},"legend":null}}},
{"data":{"name":"pts"},"transform":[{"filter":"datum.p == 6"}],"mark":{"type":"tick","orient":"horizontal","size":16,"thickness":3},"encoding":{"x":{"field":"x","type":"quantitative"},"y":{"field":"lo","type":"quantitative"},"color":{"field":"c","type":"nominal","legend":null}}},
{"data":{"name":"pts"},"transform":[{"filter":"datum.p == 6"}],"mark":{"type":"tick","orient":"horizontal","size":16,"thickness":3},"encoding":{"x":{"field":"x","type":"quantitative"},"y":{"field":"hi","type":"quantitative"},"color":{"field":"c","type":"nominal","legend":null}}},
{"data":{"name":"pts"},"transform":[{"filter":"datum.p == 6"}],"mark":{"type":"circle","size":75,"opacity":1},"encoding":{"x":{"field":"x","type":"quantitative"},"y":{"field":"y","type":"quantitative"},"color":{"field":"c","type":"nominal","legend":null}}}
]},
{"data":{"name":"ann"},"transform":[{"filter":"datum.p == 6"}],
"encoding":{"x":{"datum":0.102,"type":"quantitative","scale":{"domain":[0,1]},"axis":null},"y":{"datum":0.18,"type":"quantitative","scale":{"domain":[0,1]},"axis":null}},
"layer":[
{"mark":{"type":"rect","fill":"#ffffff","stroke":"#777777","strokeWidth":2.5},"encoding":{"x":{"datum":0.081,"type":"quantitative","axis":null},"x2":{"datum":0.645},"y":{"datum":0.017,"type":"quantitative","axis":null},"y2":{"datum":0.237}}},
{"mark":{"type":"text","text":"m","fontStyle":"italic","fontSize":36,"align":"left","baseline":"middle","color":"#000000"}},
{"mark":{"type":"text","fontSize":36,"align":"left","baseline":"middle","dx":39,"color":"#000000"},"encoding":{"text":{"field":"mv"}}},
{"mark":{"type":"text","fontSize":21,"align":"left","baseline":"middle","dx":228,"dy":-12,"color":"#000000"},"encoding":{"text":{"field":"mp"}}},
{"mark":{"type":"text","fontSize":21,"align":"left","baseline":"middle","dx":228,"dy":11,"color":"#000000"},"encoding":{"text":{"field":"mm"}}},
{"mark":{"type":"text","text":"b","fontStyle":"italic","fontSize":36,"align":"left","baseline":"middle","dy":57,"color":"#000000"}},
{"mark":{"type":"text","fontSize":36,"align":"left","baseline":"middle","dx":29,"dy":57,"color":"#000000"},"encoding":{"text":{"field":"bv"}}},
{"mark":{"type":"text","fontSize":21,"align":"left","baseline":"middle","dx":175,"dy":45,"color":"#000000"},"encoding":{"text":{"field":"bp"}}},
{"mark":{"type":"text","fontSize":21,"align":"left","baseline":"middle","dx":175,"dy":68,"color":"#000000"},"encoding":{"text":{"field":"bm"}}}
]}
]},
{"width":607,"height":611,"title":"NVSS-J052730-043647","resolve":{"scale":{"x":"independent","y":"independent"}},
"layer":[
{"layer":[
{"data":{"name":"lns"},"transform":[{"filter":"datum.p == 7 && datum.k == 's'"}],"mark":{"type":"rule","color":"#1f9ed1","opacity":0.38,"strokeWidth":5.5},
"encoding":{"x":{"field":"x","type":"quantitative","scale":{"domain":[7.786,9.782],"zero":false,"nice":false},"axis":{"values":[8.0,8.5,9.0,9.5],"format":".1f","title":"Log₁₀(ν [Hz])"}},
"y":{"field":"y","type":"quantitative","scale":{"domain":[-1.0,0.923],"zero":false,"nice":false},"axis":{"values":[0.75,0.5,0.25,0,-0.25,-0.5,-0.75,-1.0],"format":".2f","title":"Log₁₀(Sᵥ [Jy])"}},"x2":{"field":"xe"},"y2":{"field":"ye"}}},
{"data":{"name":"lns"},"transform":[{"filter":"datum.p == 7 && datum.k == 'f'"}],"mark":{"type":"rule","color":"#000000","strokeWidth":4},"encoding":{"x":{"field":"x","type":"quantitative"},"y":{"field":"y","type":"quantitative"},"x2":{"field":"xe"},"y2":{"field":"ye"}}},
{"data":{"name":"pts"},"transform":[{"filter":"datum.p == 7"}],"mark":{"type":"rule","strokeWidth":3},"encoding":{"x":{"field":"x","type":"quantitative"},"y":{"field":"lo","type":"quantitative"},"y2":{"field":"hi"},"color":{"field":"c","type":"nominal","scale":{"domain":["k","o"],"range":["#000000","#ff7f0e"]},"legend":null}}},
{"data":{"name":"pts"},"transform":[{"filter":"datum.p == 7"}],"mark":{"type":"tick","orient":"horizontal","size":16,"thickness":3},"encoding":{"x":{"field":"x","type":"quantitative"},"y":{"field":"lo","type":"quantitative"},"color":{"field":"c","type":"nominal","legend":null}}},
{"data":{"name":"pts"},"transform":[{"filter":"datum.p == 7"}],"mark":{"type":"tick","orient":"horizontal","size":16,"thickness":3},"encoding":{"x":{"field":"x","type":"quantitative"},"y":{"field":"hi","type":"quantitative"},"color":{"field":"c","type":"nominal","legend":null}}},
{"data":{"name":"pts"},"transform":[{"filter":"datum.p == 7"}],"mark":{"type":"circle","size":75,"opacity":1},"encoding":{"x":{"field":"x","type":"quantitative"},"y":{"field":"y","type":"quantitative"},"color":{"field":"c","type":"nominal","legend":null}}}
]},
{"data":{"name":"ann"},"transform":[{"filter":"datum.p == 7"}],
"encoding":{"x":{"datum":0.102,"type":"quantitative","scale":{"domain":[0,1]},"axis":null},"y":{"datum":0.18,"type":"quantitative","scale":{"domain":[0,1]},"axis":null}},
"layer":[
{"mark":{"type":"rect","fill":"#ffffff","stroke":"#777777","strokeWidth":2.5},"encoding":{"x":{"datum":0.08,"type":"quantitative","axis":null},"x2":{"datum":0.648},"y":{"datum":0.017,"type":"quantitative","axis":null},"y2":{"datum":0.237}}},
{"mark":{"type":"text","text":"m","fontStyle":"italic","fontSize":36,"align":"left","baseline":"middle","color":"#000000"}},
{"mark":{"type":"text","fontSize":36,"align":"left","baseline":"middle","dx":39,"color":"#000000"},"encoding":{"text":{"field":"mv"}}},
{"mark":{"type":"text","fontSize":21,"align":"left","baseline":"middle","dx":228,"dy":-12,"color":"#000000"},"encoding":{"text":{"field":"mp"}}},
{"mark":{"type":"text","fontSize":21,"align":"left","baseline":"middle","dx":228,"dy":11,"color":"#000000"},"encoding":{"text":{"field":"mm"}}},
{"mark":{"type":"text","text":"b","fontStyle":"italic","fontSize":36,"align":"left","baseline":"middle","dy":57,"color":"#000000"}},
{"mark":{"type":"text","fontSize":36,"align":"left","baseline":"middle","dx":29,"dy":57,"color":"#000000"},"encoding":{"text":{"field":"bv"}}},
{"mark":{"type":"text","fontSize":21,"align":"left","baseline":"middle","dx":175,"dy":45,"color":"#000000"},"encoding":{"text":{"field":"bp"}}},
{"mark":{"type":"text","fontSize":21,"align":"left","baseline":"middle","dx":175,"dy":68,"color":"#000000"},"encoding":{"text":{"field":"bm"}}}
]}
]},
{"width":607,"height":611,"title":"NVSS-J052652-040335","resolve":{"scale":{"x":"independent","y":"independent"}},
"layer":[
{"layer":[
{"data":{"name":"lns"},"transform":[{"filter":"datum.p == 8 && datum.k == 's'"}],"mark":{"type":"rule","color":"#1f9ed1","opacity":0.38,"strokeWidth":5.5},
"encoding":{"x":{"field":"x","type":"quantitative","scale":{"domain":[8.862,14.681],"zero":false,"nice":false},"axis":{"values":[9,10,11,12,13,14],"format":"d","title":"Log₁₀(ν [Hz])"}},
"y":{"field":"y","type":"quantitative","scale":{"domain":[-3.506,-1.21],"zero":false,"nice":false},"axis":{"values":[-1.5,-2.0,-2.5,-3.0,-3.5],"format":".1f","title":"Log₁₀(Sᵥ [Jy])"}},"x2":{"field":"xe"},"y2":{"field":"ye"}}},
{"data":{"name":"lns"},"transform":[{"filter":"datum.p == 8 && datum.k == 'f'"}],"mark":{"type":"rule","color":"#000000","strokeWidth":4},"encoding":{"x":{"field":"x","type":"quantitative"},"y":{"field":"y","type":"quantitative"},"x2":{"field":"xe"},"y2":{"field":"ye"}}},
{"data":{"name":"pts"},"transform":[{"filter":"datum.p == 8"}],"mark":{"type":"rule","strokeWidth":3},"encoding":{"x":{"field":"x","type":"quantitative"},"y":{"field":"lo","type":"quantitative"},"y2":{"field":"hi"},"color":{"field":"c","type":"nominal","scale":{"domain":["k","o"],"range":["#000000","#ff7f0e"]},"legend":null}}},
{"data":{"name":"pts"},"transform":[{"filter":"datum.p == 8"}],"mark":{"type":"tick","orient":"horizontal","size":16,"thickness":3},"encoding":{"x":{"field":"x","type":"quantitative"},"y":{"field":"lo","type":"quantitative"},"color":{"field":"c","type":"nominal","legend":null}}},
{"data":{"name":"pts"},"transform":[{"filter":"datum.p == 8"}],"mark":{"type":"tick","orient":"horizontal","size":16,"thickness":3},"encoding":{"x":{"field":"x","type":"quantitative"},"y":{"field":"hi","type":"quantitative"},"color":{"field":"c","type":"nominal","legend":null}}},
{"data":{"name":"pts"},"transform":[{"filter":"datum.p == 8"}],"mark":{"type":"circle","size":75,"opacity":1},"encoding":{"x":{"field":"x","type":"quantitative"},"y":{"field":"y","type":"quantitative"},"color":{"field":"c","type":"nominal","legend":null}}}
]},
{"data":{"name":"ann"},"transform":[{"filter":"datum.p == 8"}],
"encoding":{"x":{"datum":0.102,"type":"quantitative","scale":{"domain":[0,1]},"axis":null},"y":{"datum":0.18,"type":"quantitative","scale":{"domain":[0,1]},"axis":null}},
"layer":[
{"mark":{"type":"rect","fill":"#ffffff","stroke":"#777777","strokeWidth":2.5},"encoding":{"x":{"datum":0.079,"type":"quantitative","axis":null},"x2":{"datum":0.646},"y":{"datum":0.017,"type":"quantitative","axis":null},"y2":{"datum":0.237}}},
{"mark":{"type":"text","text":"m","fontStyle":"italic","fontSize":36,"align":"left","baseline":"middle","color":"#000000"}},
{"mark":{"type":"text","fontSize":36,"align":"left","baseline":"middle","dx":39,"color":"#000000"},"encoding":{"text":{"field":"mv"}}},
{"mark":{"type":"text","fontSize":21,"align":"left","baseline":"middle","dx":228,"dy":-12,"color":"#000000"},"encoding":{"text":{"field":"mp"}}},
{"mark":{"type":"text","fontSize":21,"align":"left","baseline":"middle","dx":228,"dy":11,"color":"#000000"},"encoding":{"text":{"field":"mm"}}},
{"mark":{"type":"text","text":"b","fontStyle":"italic","fontSize":36,"align":"left","baseline":"middle","dy":57,"color":"#000000"}},
{"mark":{"type":"text","fontSize":36,"align":"left","baseline":"middle","dx":29,"dy":57,"color":"#000000"},"encoding":{"text":{"field":"bv"}}},
{"mark":{"type":"text","fontSize":21,"align":"left","baseline":"middle","dx":175,"dy":45,"color":"#000000"},"encoding":{"text":{"field":"bp"}}},
{"mark":{"type":"text","fontSize":21,"align":"left","baseline":"middle","dx":175,"dy":68,"color":"#000000"},"encoding":{"text":{"field":"bm"}}}
]}
]}
],
"config": {
"font": "DejaVu Sans",
"view": {"stroke": "#555555", "strokeWidth": 3},
"axis": {"grid": false, "domain": false, "tickSize": 8, "tickWidth": 2, "tickColor": "#333333", "labelFontSize": 29, "labelColor": "#222222", "labelFont": "DejaVu Sans", "labelOverlap": false, "labelFlush": false, "titleFont": "DejaVu Sans", "titleFontSize": 29, "titleFontWeight": "normal", "titleFontStyle": "italic", "titleColor": "#333333"},
"axisX": {"labelPadding": 11, "titlePadding": 15},
"axisY": {"labelPadding": 5, "titlePadding": 18},
"title": {"fontSize": 44, "fontWeight": "normal", "color": "#111111", "offset": 8, "font": "DejaVu Sans"}
}
}
